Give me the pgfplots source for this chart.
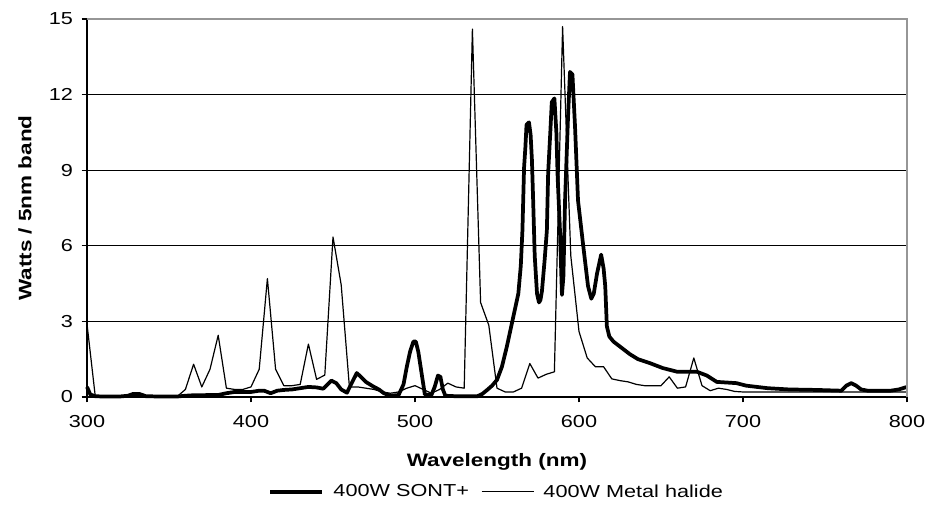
\documentclass[border=0pt]{standalone}
\usepackage{pgfplots}
\pgfplotsset{compat=1.18}
\usepackage{fontspec}
\setmainfont{Liberation Sans}[FakeStretch=1.25]
\definecolor{framegray}{RGB}{150,150,150}
\begin{document}
\begin{tikzpicture}
\useasboundingbox (-65.25pt,-96.75pt) rectangle (628.5pt,297.75pt);
\begin{axis}[
  at={(0pt,0pt)}, anchor=south west,
  scale only axis, width=615pt, height=283.5pt,
  xmin=300, xmax=800, ymin=0, ymax=15,
  xtick={300,400,...,800}, ytick={0,3,...,15},
  axis lines=left, axis line style={-, black, line width=0.9pt},
  tick align=outside, major tick length=4pt,
  tick style={black, line width=0.9pt},
  ymajorgrids, grid style={black, line width=0.9pt},
  /pgf/number format/assume math mode=true,
  tick label style={font=\fontsize{13}{15}\selectfont},
  xticklabel style={yshift=-6pt},
  yticklabel style={xshift=-3pt},
  ylabel={\textbf{Watts / 5nm band}},
  xlabel={\textbf{Wavelength (nm)}},
  label style={font=\fontsize{13.5}{15}\selectfont},
  ylabel style={at={(axis description cs:-0.0756,0.5)}, anchor=center},
  xlabel style={at={(axis description cs:0.5,-0.172)}, anchor=center},
  legend style={at={(axis description cs:0.5,-0.251)}, anchor=center, draw=none,
    font=\fontsize{13}{15}\selectfont,
    /tikz/every even column/.append style={column sep=7pt},
    /tikz/every odd column/.append style={column sep=5pt}},
  legend columns=2,
  legend image code/.code={\draw[#1] (0pt,0pt) -- (39pt,0pt);},
  clip=false,
]
\addplot[black, line width=2.8pt, line join=round] coordinates {
(300,0.4)(302,0.1)(305,0.03)(310,0.02)(320,0.02)(325,0.05)(328,0.12)(332,0.12)(336,0.03)
(345,0.02)(355,0.02)(360,0.05)(365,0.07)(380,0.08)(385,0.15)(390,0.2)(400,0.2)(405,0.25)
(408,0.25)(412,0.15)(416,0.25)(420,0.28)(425,0.3)(430,0.35)(435,0.4)(440,0.38)(444,0.33)
(446,0.45)(449,0.65)(452,0.55)(455,0.3)(458.5,0.17)(461,0.5)(464.5,0.95)(467,0.8)(470,0.6)
(475,0.4)(478,0.3)(481,0.15)(485,0.05)(490,0.08)(493,0.5)(495,1.2)(497,1.8)(499,2.2)
(500.5,2.2)(502,1.8)(504,0.95)(506,0.1)(510,0.08)(512,0.4)(514,0.85)(515.5,0.8)(517,0.3)
(518.5,0.05)(525,0.03)(538,0.03)(541,0.12)(544,0.28)(547,0.45)(550,0.68)(553,1.2)(556,2.0)
(560,3.2)(563,4.1)(564.5,5.2)(565.5,6.6)(566.5,9.1)(567.3,9.9)(568,10.8)(569.5,10.9)
(570.5,10.4)(571.3,9.4)(572,7.9)(573,5.6)(574.4,4.1)(575.6,3.75)(576.5,3.85)(577.4,4.2)
(579,5.4)(580.4,6.6)(581.2,8.9)(582.5,10.5)(583.4,11.7)(585,11.85)(586.2,10.5)(587,8.7)
(588.4,6.6)(589.6,4.05)(590.5,4.8)(591.5,7.8)(593.3,11.1)(594.5,12.9)(596,12.8)(597.6,10.7)
(599.4,7.8)(602.4,6.1)(605.5,4.4)(607.5,3.9)(609,4.1)(611,4.9)(613.5,5.65)(615,5.1)(616,4.4)
(617,2.8)(618.5,2.4)(621,2.2)(625,2.0)(631,1.7)(636,1.5)(643,1.35)(651,1.15)(660,1.0)
(672,1.0)(678,0.85)(684,0.6)(696,0.55)(702,0.45)(708.5,0.4)(715,0.35)(728,0.3)(745,0.28)
(760,0.25)(763,0.45)(766,0.55)(769,0.45)(772,0.3)(776,0.25)(785,0.25)(790,0.25)(795,0.3)(800,0.4)
};
\addlegendentry{400W SONT+}
\addplot[black, line width=0.9pt, line join=round] coordinates {
(300,2.9)(305,0.05)(310,0.02)(320,0.02)(330,0.02)(340,0.02)(350,0.02)(355,0.02)(360,0.3)
(365,1.3)(370,0.4)(375,1.1)(380,2.45)(385,0.35)(390,0.3)(395,0.3)(400,0.4)(405,1.1)
(410,4.7)(415,1.1)(420,0.45)(425,0.45)(430,0.5)(435,2.1)(440,0.7)(445,0.87)(450,6.35)
(455,4.45)(460,0.4)(465,0.4)(470,0.35)(475,0.3)(480,0.2)(485,0.15)(490,0.2)(495,0.35)
(500,0.45)(505,0.3)(510,0.15)(515,0.3)(520,0.55)(525,0.4)(530,0.35)(535,14.6)(540,3.75)
(545,2.85)(550,0.35)(555,0.2)(560,0.2)(565,0.35)(570,1.33)(575,0.75)(580,0.9)(585,1.0)
(590,14.7)(595,5.6)(600,2.6)(605,1.55)(610,1.2)(615,1.2)(620,0.72)(625,0.65)(630,0.6)
(635,0.5)(640,0.45)(645,0.45)(650,0.45)(655,0.8)(660,0.35)(665,0.4)(670,1.55)(675,0.45)
(680,0.25)(685,0.35)(690,0.3)(695,0.22)(700,0.2)(720,0.2)(740,0.2)(760,0.2)(780,0.2)(800,0.2)
};
\addlegendentry{400W Metal halide}
\draw[framegray, line width=1.2pt] (rel axis cs:0,1) -- (rel axis cs:1,1) -- (rel axis cs:1,0);
\end{axis}
\end{tikzpicture}
\end{document}
